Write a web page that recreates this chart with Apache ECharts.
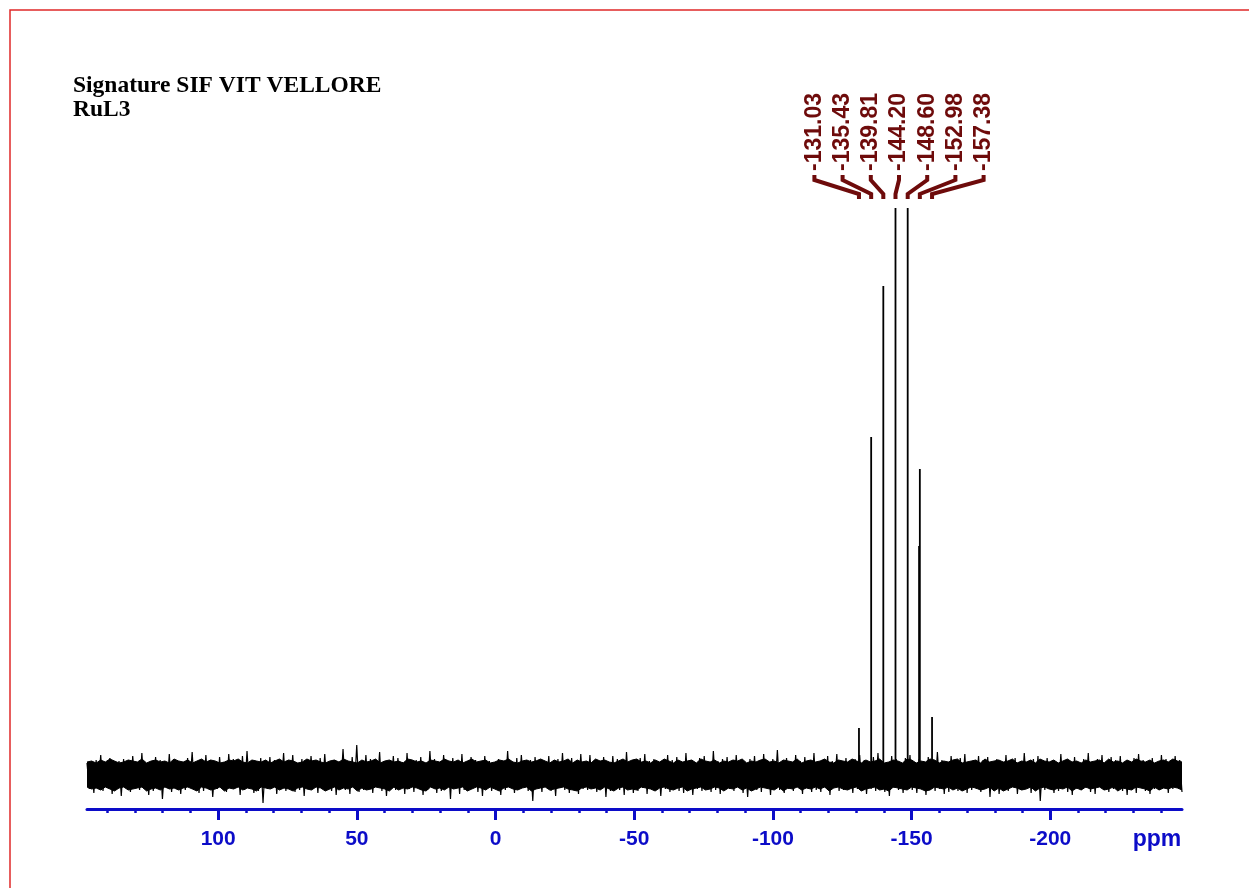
<!DOCTYPE html>
<html>
<head>
<meta charset="utf-8">
<title>RuL3 spectrum</title>
<script src="https://cdn.jsdelivr.net/npm/echarts@6/dist/echarts.min.js"></script>
<style>
  html, body { margin: 0; padding: 0; background: #ffffff; }
  #chart { width: 1249px; height: 888px; }
</style>
</head>
<body>
<div id="chart"></div>
<script>
// Spectral window (ppm), high field on the right
const ppmMax = 147.3;
const ppmMin = -247.5;

// Axis ticks and labels
const majorTicks = [100, 50, 0, -50, -100, -150, -200];
const minorTicks = [140, 130, 120, 110, 100, 90, 80, 70, 60, 50, 40, 30, 20, 10, 0,
  -10, -20, -30, -40, -50, -60, -70, -80, -90, -100, -110, -120, -130, -140, -150,
  -160, -170, -180, -190, -200, -210, -220, -230, -240];

// Picked peaks (ppm) and their intensities
const peakPpm = [-131.03, -135.43, -139.81, -144.20, -148.60, -152.98, -157.38];
const peakHeight = [47, 338, 489, 567, 567, 306, 58];

// Unlabelled shoulder next to the -152.98 line
const shoulderPpm = [-152.70];
const shoulderHeight = [229];

// Baseline noise trace, sampled evenly across the spectral window
const noise = [
  12,-14,9,-18,15,-11,20,-16,8,-13,17,-19,11,-9,14,-21,16,-12,10,-17,
  19,-10,13,-15,22,-14,9,-20,12,-16,18,-11,15,-24,10,-13,21,-17,8,-12,
  14,-19,11,-15,17,-9,23,-14,12,-18,10,-16,20,-12,15,-22,9,-14,18,-11,
  13,-17,21,-10,16,-13,11,-20,19,-15,24,-12,14,-18,10,-16,17,-28,12,-14,
  18,-11,15,-19,9,-13,22,-16,13,-10,20,-17,11,-15,16,-21,14,-12,19,-9,
  12,-18,17,-14,21,-11,10,-16,15,-20,13,-12,26,-15,11,-19,18,-13,30,-17,
  9,-15,20,-12,16,-18,12,-10,23,-16,14,-21,11,-13,19,-15,17,-11,13,-19,
  22,-14,10,-17,15,-12,18,-20,12,-15,24,-13,16,-18,11,-16,20,-12,14,-24,
  17,-10,13,-19,21,-15,9,-14,18,-12,15,-17,12,-21,19,-11,14,-16,10,-13,
  16,-20,12,-15,24,-13,11,-18,17,-14,20,-10,13,-16,15,-26,18,-12,11,-17,
  14,-12,19,-16,10,-21,16,-13,22,-15,12,-18,17,-11,14,-19,21,-14,9,-15,
  20,-13,15,-17,11,-14,18,-22,13,-16,19,-10,16,-15,12,-20,23,-12,14,-18,
  11,-16,17,-13,21,-19,14,-11,16,-15,13,-21,10,-14,20,-17,15,-12,18,-16,
  13,-18,22,-12,15,-20,11,-14,17,-16,19,-13,12,-17,24,-15,14,-19,16,-11,
  18,-14,12,-16,20,-13,15,-18,11,-22,16,-12,19,-15,13,-17,21,-10,14,-20,
  16,-12,25,-15,11,-18,17,-14,13,-16,20,-11,14,-19,18,-13,10,-17,22,-15,
  12,-17,15,-13,19,-20,14,-11,21,-16,13,-15,17,-12,11,-18,16,-14,20,-13,
  15,-19,11,-14,18,-16,22,-12,14,-17,12,-21,19,-13,16,-15,10,-18,17,-12,
  20,-15,13,-18,16,-11,14,-20,18,-13,11,-16,23,-14,15,-19,12,-17,19,-10,
  14,-16,17,-12,21,-18,13,-15,10,-14,19,-17,15,-11,18,-22,12,-13,16,-19,
  11,-14,20,-16,15,-12,17,-19,13,-15,22,-11,14,-18,16,-13,19,-26,12,-15,
  17,-13,14,-18,11,-16,21,-12,15,-17,13,-20,18,-14,10,-15,16,-13,22,-17,
  13,-19,16,-11,20,-15,12,-17,18,-14,15,-12,19,-16,11,-20,14,-13,17,-18,
  21,-12,15,-16,13,-19,17,-14,11,-15,20,-13,16,-18,12,-14,19,-11,15,-17
];

// Upper and lower edges of the dense noise band
const noiseUpper = [
  13,14,12,15,13,16,14,12,13,15,14,13,16,12,14,15,13,14,12,16,
  14,13,15,12,14,16,13,15,14,12,13,15,14,16,13,12,15,14,13,15,
  12,14,16,13,15,14,12,13,16,14,15,13,12,14,15,13,16,14,13,12,
  15,13,14,16,12,14,15,13,14,12,16,15,13,14,12,15,14,13,16,14,
  13,15,12,14,16,13,14,15,12,13,15,14,16,13,12,14,15,13,14,16,
  14,12,15,13,14,16,12,15,13,14,12,16,14,15,13,12,14,16,13,15,
  16,13,14,12,15,13,16,14,12,15,13,14,15,12,16,14,13,15,12,14,
  13,15,14,16,12,14,13,15,16,13,14,12,15,14,13,16,12,14,15,13,
  14,16,13,12,15,14,13,16,14,12,15,13,14,16,12,13,15,14,12,16,
  15,12,14,13,16,15,12,14,13,15,16,12,13,14,15,12,16,13,14,15,
  13,14,16,12,14,13,15,12,16,14,13,15,12,14,16,13,14,12,15,13,
  14,15,12,16,13,14,12,15,13,16,14,13,15,12,14,15,13,16,14,13
];
const noiseLower = [
  -12,-14,-13,-15,-12,-14,-16,-13,-12,-15,-14,-13,-12,-16,-14,-13,-15,-12,-14,-13,
  -15,-13,-12,-14,-16,-12,-13,-15,-14,-12,-16,-13,-14,-12,-15,-13,-14,-16,-12,-13,
  -14,-12,-15,-13,-14,-16,-13,-12,-14,-15,-12,-13,-16,-14,-12,-15,-13,-14,-12,-16,
  -13,-15,-14,-12,-13,-14,-16,-12,-15,-13,-14,-12,-13,-15,-16,-12,-14,-13,-15,-12,
  -14,-13,-12,-16,-14,-12,-13,-15,-12,-14,-16,-13,-12,-14,-15,-13,-12,-16,-14,-13,
  -12,-15,-14,-13,-12,-14,-15,-16,-13,-12,-14,-13,-15,-12,-14,-16,-13,-12,-15,-14,
  -15,-12,-13,-14,-16,-13,-12,-14,-15,-13,-12,-16,-14,-13,-12,-15,-14,-12,-13,-16,
  -13,-14,-12,-15,-13,-16,-14,-12,-13,-14,-15,-12,-16,-13,-14,-12,-15,-13,-14,-12,
  -14,-12,-16,-13,-12,-14,-15,-13,-12,-16,-14,-13,-12,-15,-14,-16,-12,-13,-14,-15,
  -12,-13,-14,-16,-15,-12,-13,-14,-12,-15,-13,-16,-14,-12,-13,-15,-14,-12,-16,-13,
  -16,-14,-12,-13,-15,-14,-12,-16,-13,-12,-14,-15,-13,-14,-12,-16,-13,-15,-12,-14,
  -13,-12,-15,-14,-12,-16,-13,-14,-15,-12,-13,-14,-16,-12,-15,-13,-14,-12,-13,-15
];

const AXIS_BLUE = '#0c0cc8';
const PEAK_RED = '#6e0b0b';

// Place an evenly sampled array on the ppm axis
function onGrid(values) {
  const step = (ppmMin - ppmMax) / (values.length - 1);
  return values.map((v, i) => [ppmMax + i * step, v]);
}

// Each line rises from the baseline to its intensity; gaps keep them separate
const lineData = [];
const allPpm = peakPpm.concat(shoulderPpm);
const allHeight = peakHeight.concat(shoulderHeight);
allPpm.forEach((p, i) => {
  lineData.push([p, 0], [p, allHeight[i]], [p, '-']);
});

const labelCenterPpm = peakPpm.reduce((a, b) => a + b, 0) / peakPpm.length;
const LABEL_PITCH = 28.2;

const bandSeries = (name, values) => ({
  name: name,
  type: 'line',
  data: onGrid(values),
  showSymbol: false,
  symbol: 'none',
  lineStyle: { color: '#000000', width: 1 },
  areaStyle: { color: '#000000', opacity: 1, origin: 'auto' },
  z: 2
});

const chart = echarts.init(document.getElementById('chart'), null, { renderer: 'canvas' });

chart.setOption({
  animation: false,
  backgroundColor: '#ffffff',
  grid: { left: 87, right: 67, top: 208, bottom: 79, containLabel: false },
  xAxis: [
    {
      type: 'value',
      inverse: true,
      min: ppmMin,
      max: ppmMax,
      position: 'bottom',
      axisLine: { show: true, onZero: false, lineStyle: { color: AXIS_BLUE, width: 3 } },
      axisTick: { show: true, customValues: majorTicks, length: 11, lineStyle: { color: AXIS_BLUE, width: 3 } },
      axisLabel: {
        show: true,
        customValues: majorTicks,
        margin: 20,
        color: AXIS_BLUE,
        fontFamily: '"Liberation Sans", Arial, sans-serif',
        fontWeight: 'bold',
        fontSize: 21
      },
      splitLine: { show: false }
    },
    {
      type: 'value',
      inverse: true,
      min: ppmMin,
      max: ppmMax,
      position: 'bottom',
      axisLine: { show: false, onZero: false },
      axisTick: { show: true, customValues: minorTicks, length: 4, lineStyle: { color: AXIS_BLUE, width: 2.5 } },
      axisLabel: { show: false },
      splitLine: { show: false }
    }
  ],
  yAxis: { type: 'value', min: -34, max: 567, show: false, splitLine: { show: false } },
  graphic: [
    {
      type: 'rect',
      shape: { x: 10, y: 10, width: 1400, height: 1000 },
      style: { fill: null, stroke: '#e02828', lineWidth: 1.5 },
      silent: true
    },
    {
      type: 'text',
      left: 73,
      top: 74,
      style: {
        text: 'Signature SIF VIT VELLORE\nRuL3',
        fill: '#000000',
        font: 'bold 23.5px "Liberation Serif", "Times New Roman", serif',
        lineHeight: 24
      }
    },
    {
      type: 'text',
      x: 1157,
      y: 840,
      style: {
        text: 'ppm',
        fill: AXIS_BLUE,
        font: 'bold 23px "Liberation Sans", Arial, sans-serif',
        align: 'center',
        verticalAlign: 'middle'
      }
    }
  ],
  series: [
    bandSeries('noise band upper', noiseUpper),
    bandSeries('noise band lower', noiseLower),
    {
      name: 'noise',
      type: 'line',
      data: onGrid(noise),
      showSymbol: false,
      symbol: 'none',
      lineStyle: { color: '#000000', width: 1.2 },
      z: 3
    },
    {
      name: 'lines',
      type: 'line',
      data: lineData,
      connectNulls: false,
      showSymbol: false,
      symbol: 'none',
      lineStyle: { color: '#000000', width: 1.8 },
      z: 4
    },
    {
      name: 'peak labels',
      type: 'custom',
      coordinateSystem: 'cartesian2d',
      clip: false,
      data: peakPpm.map(p => [p, 0]),
      z: 5,
      renderItem: function (params, api) {
        const ppm = api.value(0);
        const i = params.dataIndex;
        const px = api.coord([ppm, 0])[0];
        const cx = api.coord([labelCenterPpm, 0])[0] + 3.5;
        const lx = cx + (i - (peakPpm.length - 1) / 2) * LABEL_PITCH;
        return {
          type: 'group',
          children: [
            {
              type: 'text',
              x: lx,
              y: 171,
              rotation: Math.PI / 2,
              style: {
                text: ppm.toFixed(2),
                fill: PEAK_RED,
                font: 'bold 23px "Liberation Sans", Arial, sans-serif',
                align: 'left',
                verticalAlign: 'middle'
              }
            },
            {
              type: 'polyline',
              shape: { points: [[lx, 175], [lx, 180], [px, 194], [px, 199]] },
              style: { stroke: PEAK_RED, lineWidth: 4, fill: null }
            }
          ]
        };
      }
    }
  ]
});
</script>
</body>
</html>
